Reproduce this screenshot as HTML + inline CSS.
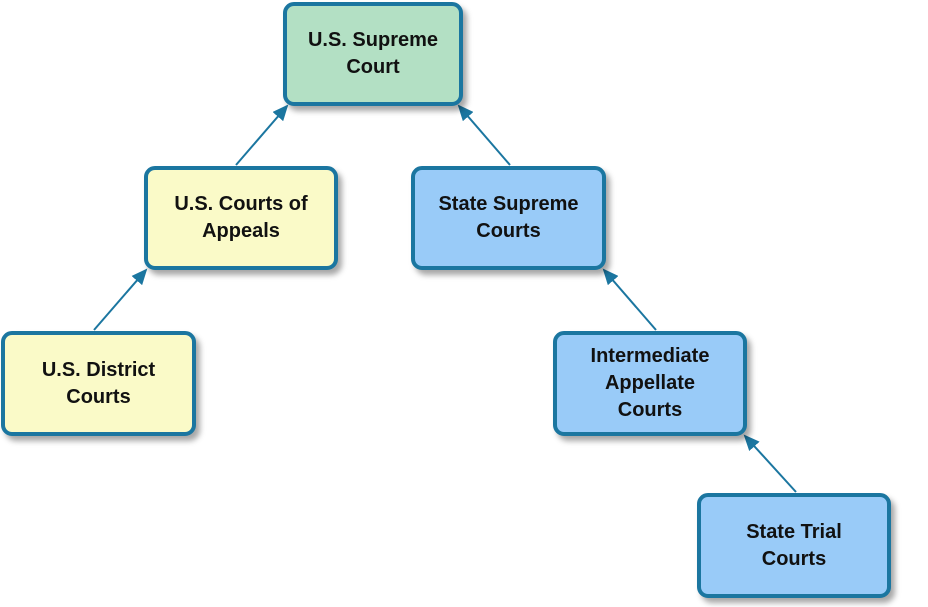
<!DOCTYPE html>
<html><head><meta charset="utf-8"><style>
body{margin:0;width:928px;height:607px;background:#fff;position:relative;overflow:hidden;font-family:"Liberation Sans",Arial,sans-serif}
.b{position:absolute;box-sizing:border-box;border:4px solid #1b76a0;border-radius:11px;display:flex;align-items:center;justify-content:center;text-align:center;font-weight:bold;font-size:20px;line-height:27px;color:#111;box-shadow:4px 5px 6px rgba(0,0,0,0.35)}
.g{background:#b3e0c4}.y{background:#fafac8}.l{background:#99cbf8}
svg{position:absolute;left:0;top:0}
</style></head><body>
<svg width="928" height="607">
<defs><marker id="a" markerWidth="16" markerHeight="14" refX="14" refY="7" orient="auto" markerUnits="userSpaceOnUse"><path d="M0,0 L16,7 L0,14 z" fill="#1b76a0"/></marker></defs>
<g stroke="#1b76a0" stroke-width="2" marker-end="url(#a)">
<line x1="236" y1="165" x2="287" y2="106"/>
<line x1="510" y1="165" x2="459" y2="106"/>
<line x1="94" y1="330" x2="146" y2="270"/>
<line x1="656" y1="330" x2="604" y2="270"/>
<line x1="796" y1="492" x2="745" y2="436"/>
</g></svg>
<div class="b g" style="left:283px;top:2px;width:180px;height:104px">U.S. Supreme<br>Court</div>
<div class="b y" style="left:144px;top:166px;width:194px;height:104px">U.S. Courts of<br>Appeals</div>
<div class="b l" style="left:411px;top:166px;width:195px;height:104px">State Supreme<br>Courts</div>
<div class="b y" style="left:1px;top:331px;width:195px;height:105px">U.S. District<br>Courts</div>
<div class="b l" style="left:553px;top:331px;width:194px;height:105px">Intermediate<br>Appellate<br>Courts</div>
<div class="b l" style="left:697px;top:493px;width:194px;height:105px">State Trial<br>Courts</div>
</body></html>
